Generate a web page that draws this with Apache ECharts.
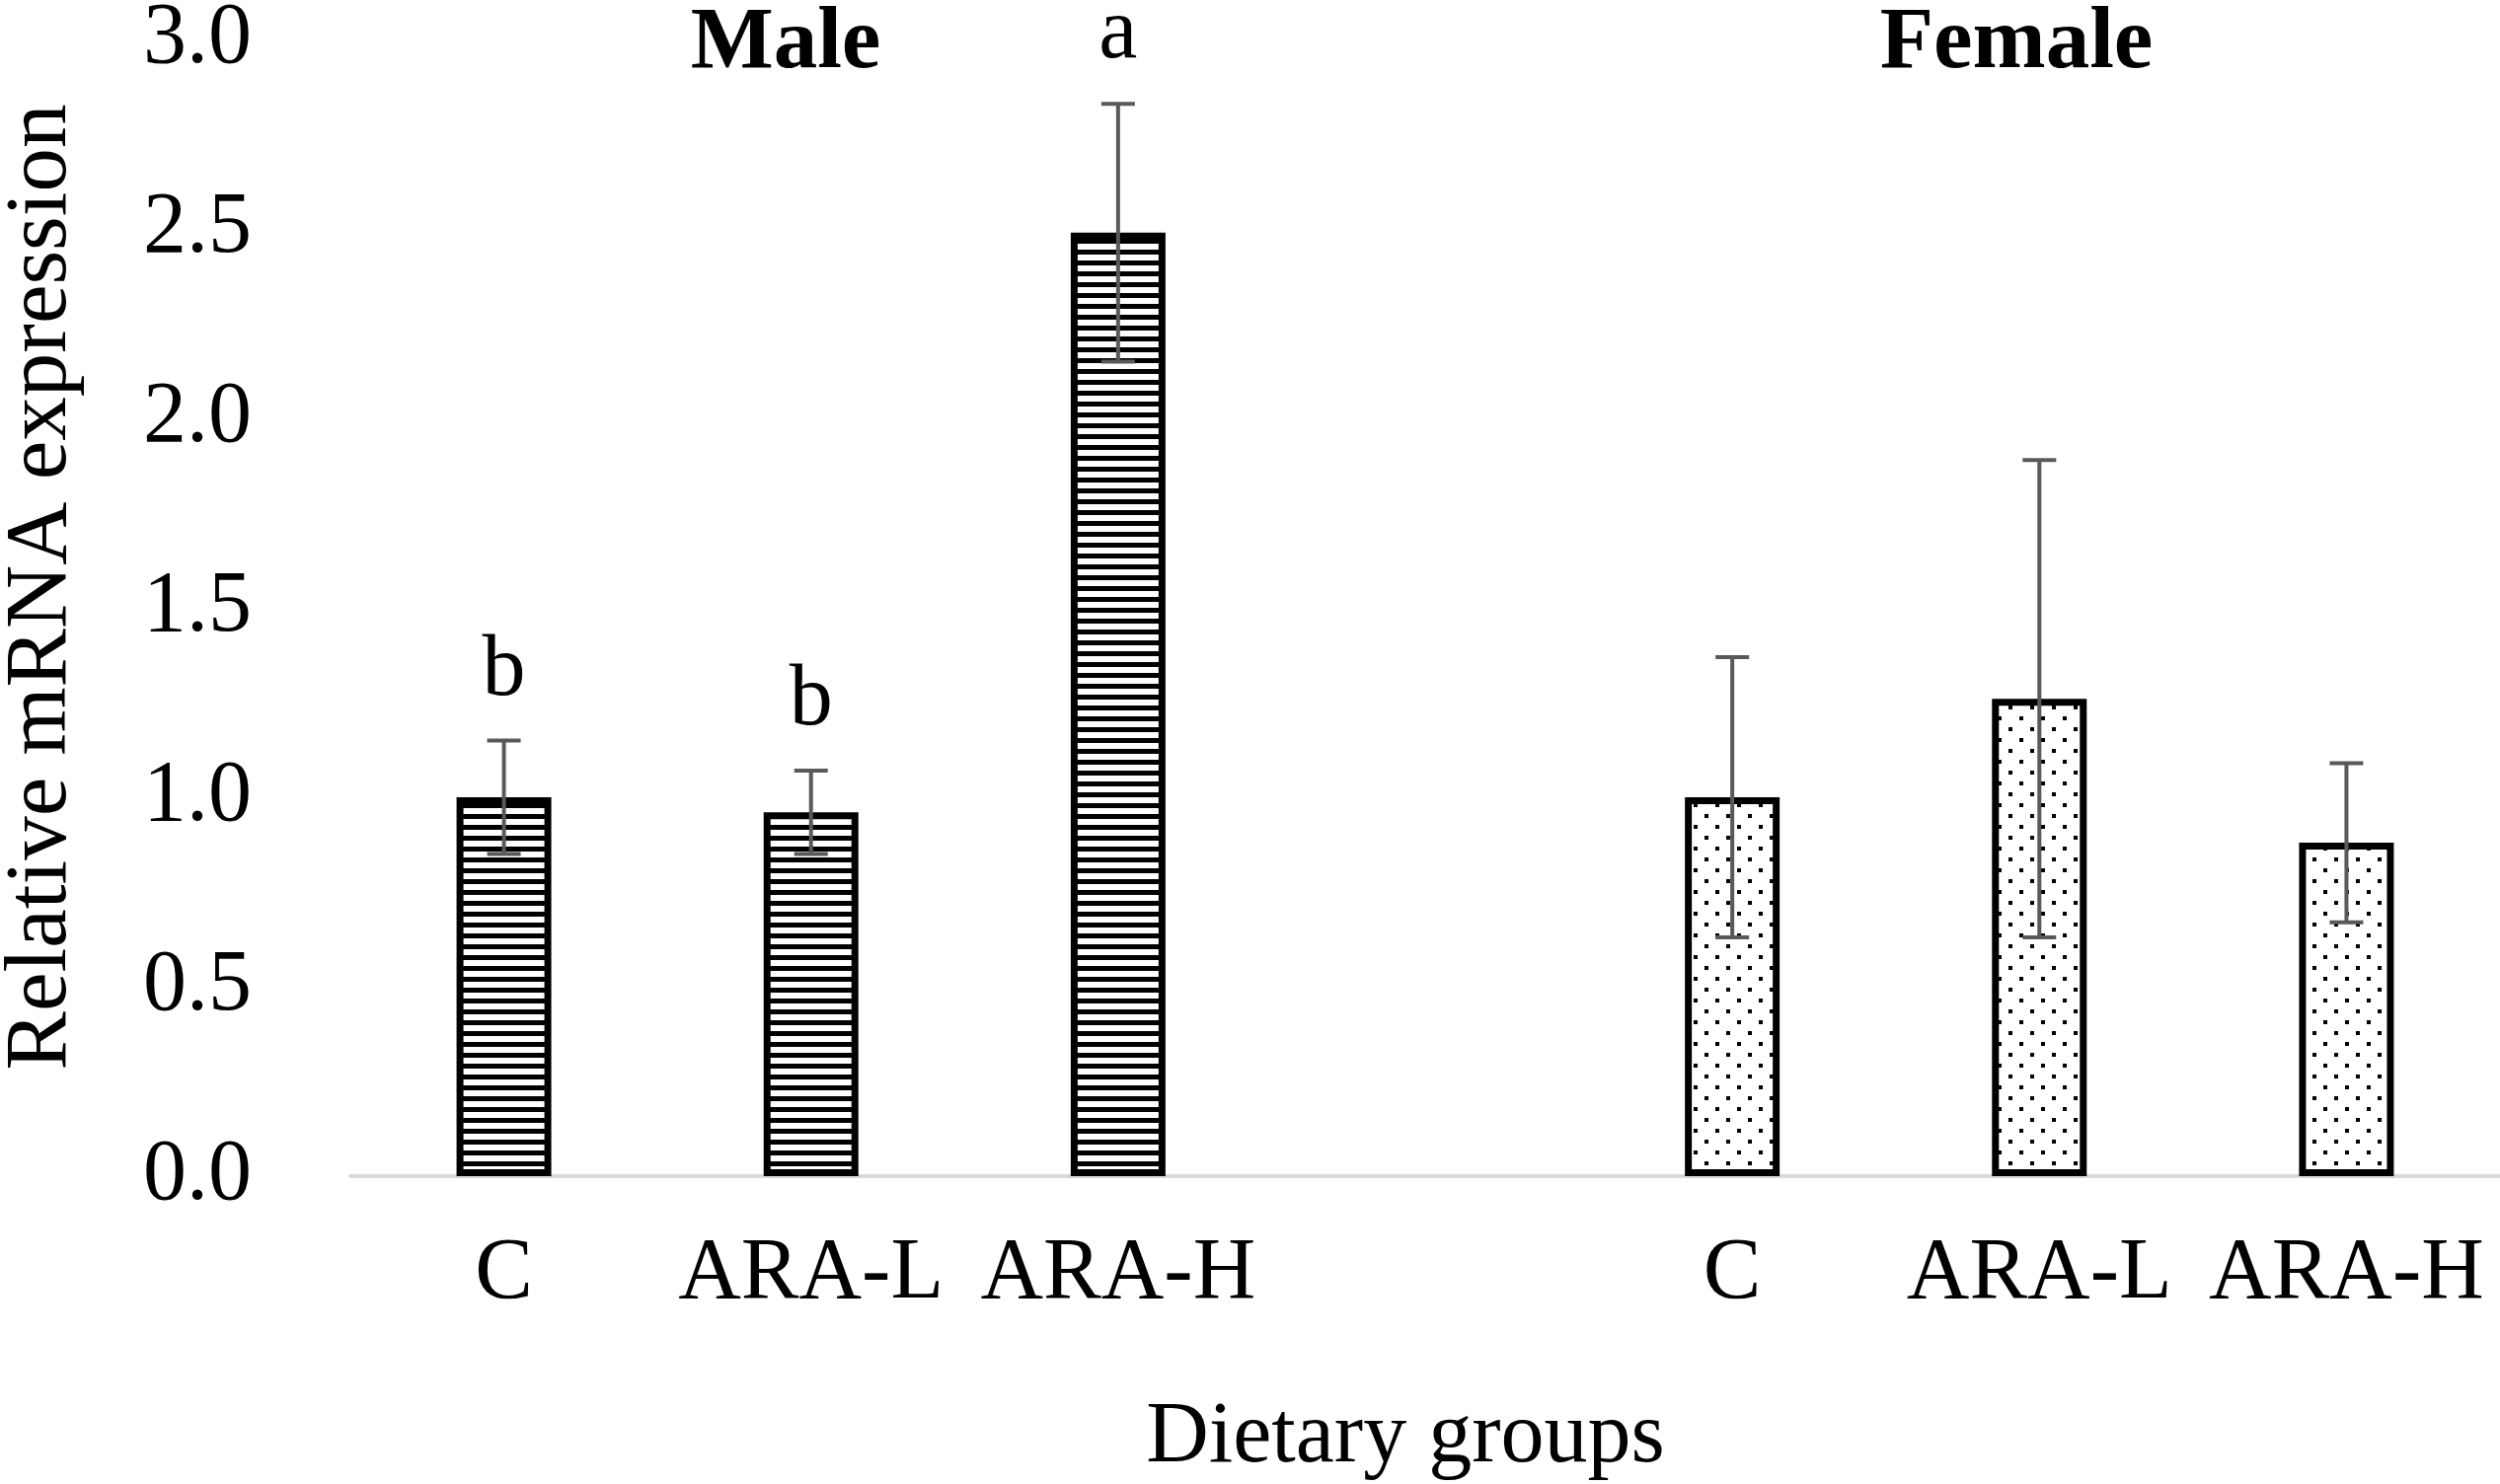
<!DOCTYPE html>
<html>
<head>
<meta charset="utf-8">
<script src="https://cdn.jsdelivr.net/npm/echarts@6/dist/echarts.min.js"></script>
<style>
  html, body { margin: 0; padding: 0; background: #fff; }
  #main { width: 2533px; height: 1504px; }
</style>
</head>
<body>
<div id="main"></div>
<script>
// categories: male groups, empty spacer, female groups
const categories = ['C', 'ARA-L', 'ARA-H', '', 'C', 'ARA-L', 'ARA-H'];
const maleMean = [1.00, 0.96, 2.49];
const maleErr = [0.15, 0.11, 0.34];
const maleLetters = ['b', 'b', 'a'];
const femaleMean = [1.00, 1.26, 0.88];
const femaleErr = [0.37, 0.63, 0.21];
const femaleLetters = ['', '', ''];
const yTicks = [0, 0.5, 1.0, 1.5, 2.0, 2.5, 3.0];

const FONT = "'Liberation Serif', 'Times New Roman', serif";

// hatch fills
function stripePattern() {
  const c = document.createElement('canvas');
  c.width = 8; c.height = 11;
  const g = c.getContext('2d');
  g.fillStyle = '#fff'; g.fillRect(0, 0, 8, 11);
  g.fillStyle = '#000'; g.fillRect(0, 0, 8, 5);
  return c;
}
function dotPattern() {
  const c = document.createElement('canvas');
  c.width = 22; c.height = 22;
  const g = c.getContext('2d');
  g.fillStyle = '#fff'; g.fillRect(0, 0, 22, 22);
  g.fillStyle = '#000';
  g.fillRect(0, 0, 4, 4);
  g.fillRect(11, 11, 4, 4);
  return c;
}

// place group values into the 7 slots
const maleBars = categories.map((_, i) => i < 3 ? maleMean[i] : '-');
const femaleBars = categories.map((_, i) => i > 3 ? femaleMean[i - 4] : '-');

const errData = [];
maleMean.forEach((m, i) => errData.push([i, m - maleErr[i], m + maleErr[i], maleLetters[i]]));
femaleMean.forEach((m, i) => errData.push([i + 4, m - femaleErr[i], m + femaleErr[i], femaleLetters[i]]));

const chart = echarts.init(document.getElementById('main'));

chart.setOption({
  animation: false,
  grid: { left: 355, right: 0, top: 40, bottom: 312, containLabel: false, outerBoundsMode: 'none' },
  graphic: [
    { type: 'text', x: 796, y: 45, style: { text: 'Male', font: 'bold 89px ' + FONT, fill: '#000', textAlign: 'center', textVerticalAlign: 'middle' } },
    { type: 'text', x: 2043, y: 45, style: { text: 'Female', font: 'bold 89px ' + FONT, fill: '#000', textAlign: 'center', textVerticalAlign: 'middle' } }
  ],
  xAxis: {
    type: 'category',
    data: categories,
    axisLine: { show: true, lineStyle: { color: '#d9d9d9', width: 4 } },
    axisTick: { show: false },
    axisLabel: { color: '#000', fontFamily: FONT, fontSize: 88, margin: 56, interval: 0 },
    name: 'Dietary groups',
    nameLocation: 'middle',
    nameGap: 222,
    nameTextStyle: { color: '#000', fontFamily: FONT, fontSize: 88, padding: [0, 40, 0, 0] }
  },
  yAxis: {
    type: 'value',
    min: 0, max: 3, interval: 0.5,
    axisLine: { show: false },
    axisTick: { show: false },
    splitLine: { show: false },
    axisLabel: {
      color: '#000', fontFamily: FONT, fontSize: 88, margin: 100,
      formatter: v => yTicks.includes(v) ? v.toFixed(1) : ''
    },
    name: 'Relative mRNA expression',
    nameLocation: 'middle',
    nameGap: 268,
    nameTextStyle: { color: '#000', fontFamily: FONT, fontSize: 89, padding: [0, 0, 0, 42] }
  },
  series: [
    {
      name: 'Male', type: 'bar', data: maleBars, barWidth: 96, barGap: '-100%',
      itemStyle: { color: { image: stripePattern(), repeat: 'repeat' }, borderColor: '#000', borderWidth: 7 }
    },
    {
      name: 'Female', type: 'bar', data: femaleBars, barWidth: 96, barGap: '-100%',
      itemStyle: { color: { image: dotPattern(), repeat: 'repeat' }, borderColor: '#000', borderWidth: 7 }
    },
    {
      name: 'SE', type: 'custom', data: errData, z: 10,
      renderItem: function (params, api) {
        const x = api.coord([api.value(0), 0])[0];
        const lo = api.coord([api.value(0), api.value(1)])[1];
        const hi = api.coord([api.value(0), api.value(2)])[1];
        const half = 17;
        const st = { stroke: '#595959', lineWidth: 4 };
        const kids = [
          { type: 'line', shape: { x1: x, y1: lo, x2: x, y2: hi }, style: st },
          { type: 'line', shape: { x1: x - half, y1: hi, x2: x + half, y2: hi }, style: st },
          { type: 'line', shape: { x1: x - half, y1: lo, x2: x + half, y2: lo }, style: st }
        ];
        const letter = errData[params.dataIndex][3];
        if (letter) {
          kids.push({
            type: 'text',
            style: { text: letter, x: x, y: hi - 26, textAlign: 'center', textVerticalAlign: 'bottom', font: '88px ' + FONT, fill: '#000' }
          });
        }
        return { type: 'group', children: kids };
      }
    }
  ]
});
</script>
</body>
</html>
